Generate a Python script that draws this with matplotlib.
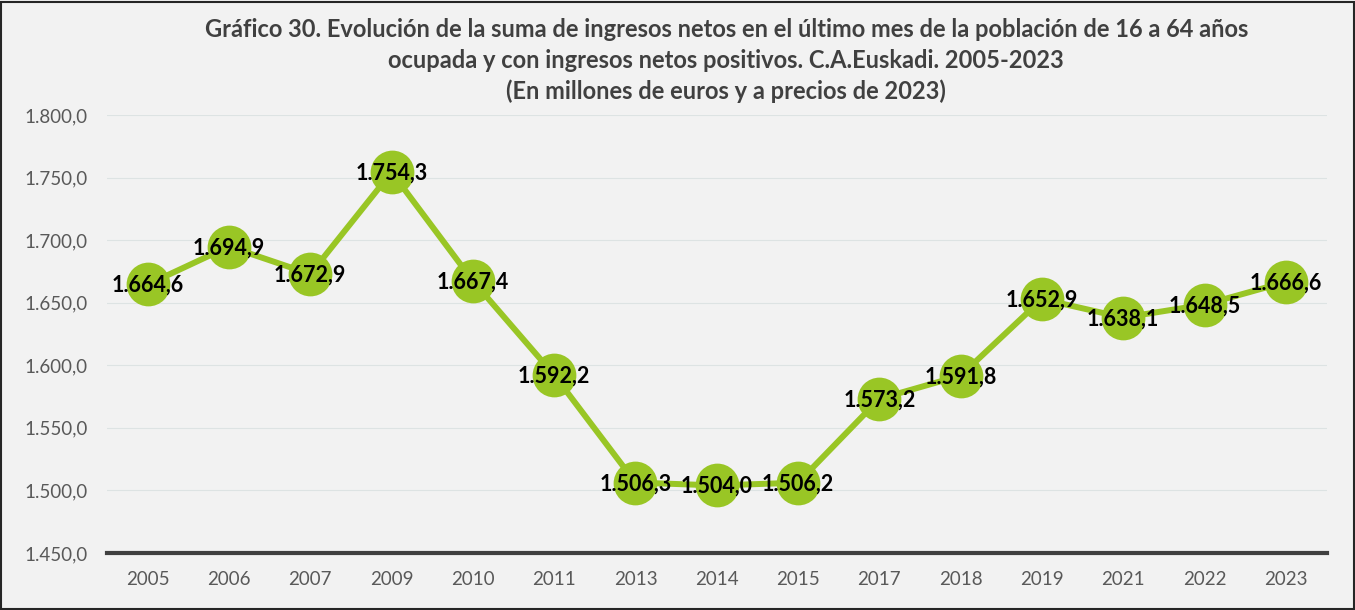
import matplotlib as mpl
import matplotlib.pyplot as plt

years = ['2005', '2006', '2007', '2009', '2010', '2011', '2013', '2014',
         '2015', '2017', '2018', '2019', '2021', '2022', '2023']
ingresos = [1664.6, 1694.9, 1672.9, 1754.3, 1667.4, 1592.2, 1506.3, 1504.0,
            1506.2, 1573.2, 1591.8, 1652.9, 1638.1, 1648.5, 1666.6]

plt.rcParams['font.family'] = ['Lato', 'DejaVu Sans']

def fmt_es(v):
  s = f'{v:,.1f}'
  return s.replace(',', 'X').replace('.', ',').replace('X', '.')

fig = plt.figure(figsize=(13.55, 6.1), dpi=100, facecolor='#f2f2f2')
ax = fig.add_axes([0.079, 0.0934, 0.9, 0.7181])
ax.set_facecolor('#f2f2f2')

x = list(range(len(years)))
ax.plot(x, ingresos, '-o', color='#99c625', linewidth=4.3,
        markersize=31.5, markeredgewidth=0, zorder=3)

for xi, v in zip(x, ingresos):
  ax.text(xi, v - 1, fmt_es(v), ha='center', va='center', fontsize=15.5,
          fontweight='bold', color='black', zorder=4)

ax.set_xlim(-0.5, len(years) - 0.5)
ax.set_ylim(1450, 1800)
ax.set_yticks([1450, 1500, 1550, 1600, 1650, 1700, 1750, 1800])
ax.yaxis.set_major_formatter(mpl.ticker.FuncFormatter(lambda v, p: fmt_es(v)))
ax.set_xticks(x)
ax.set_xticklabels(years)
ax.tick_params(axis='both', length=0, labelsize=13.5, colors='#595959')
ax.tick_params(axis='x', pad=13)
ax.tick_params(axis='y', pad=14)
ax.grid(axis='y', color='#dde3e3', linewidth=0.8)
ax.set_axisbelow(True)
for s in ['top', 'right', 'left']:
  ax.spines[s].set_visible(False)
ax.spines['bottom'].set_color('#404040')
ax.spines['bottom'].set_linewidth(3)
ax.spines['bottom'].set_zorder(5)

fig.text(0.536, 0.97,
         'Gráfico 30. Evolución de la suma de ingresos netos en el último mes de la población de 16 a 64 años\n'
         'ocupada y con ingresos netos positivos. C.A.Euskadi. 2005-2023\n'
         '(En millones de euros y a precios de 2023)',
         ha='center', va='top', fontsize=17, fontweight='bold',
         color='#404040', linespacing=1.38)

fig.patches.append(mpl.patches.Rectangle((0.001, 0.002), 0.998, 0.995,
                   transform=fig.transFigure, fill=False,
                   edgecolor='#262626', linewidth=1.5))

fig.savefig('out.png', dpi=100, facecolor=fig.get_facecolor())
